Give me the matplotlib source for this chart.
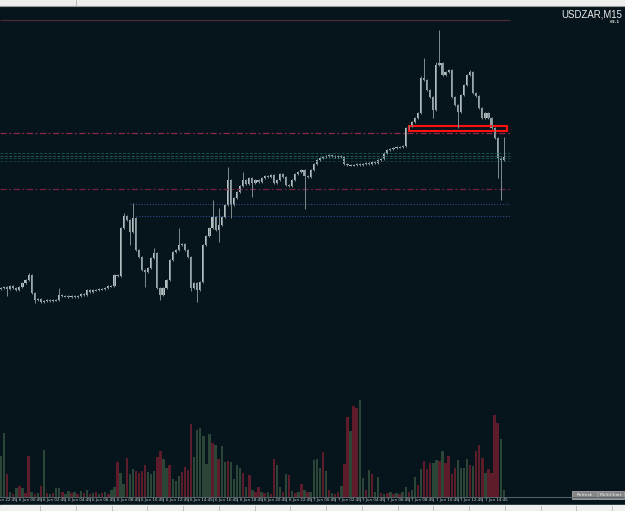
import numpy as np
import pandas as pd
import matplotlib
matplotlib.use("Agg")
import matplotlib.pyplot as plt
from matplotlib.patches import Rectangle

# USDZAR M15 candles, closes (smaller row = higher price)
close = [288, 287, 289, 286, 288, 290, 287, 283, 280, 275, 293, 300, 299, 302, 301, 300, 301, 300, 300, 295, 296, 296,
         297, 296, 297, 296, 294, 295, 290, 292, 290, 290, 289, 289, 288, 286, 286, 275, 276, 228, 216, 220, 232, 218,
         250, 257, 270, 272, 268, 258, 253, 288, 295, 288, 280, 260, 252, 250, 245, 244, 250, 257, 288, 283,
         290, 282, 245, 236, 228, 217, 230, 225, 217, 205, 180, 205, 198, 192, 186, 180, 184, 178, 183, 180, 182, 178,
         176, 177, 175, 183, 180, 174, 177, 185, 186, 180, 174, 172, 170, 176, 177, 170, 164, 160, 158, 157, 156, 155,
         156, 157,
         156, 157, 164, 165, 165, 165, 164, 165, 164, 163, 164, 162, 163, 160, 159, 153, 150, 149, 148, 147, 147, 146,
         128, 126, 122, 118, 113, 78, 80, 90, 97, 110, 65, 63, 75, 72, 70, 97, 105, 112, 95, 85, 75, 72, 93, 96, 108,
         118, 113, 118, 128, 138, 158, 160, 157]
first_open = 289

# wick lengths that stand out (bar: rows), the rest are about 1
upper_wick = {9: 2, 19: 7, 40: 3, 43: 15, 50: 5, 58: 17, 69: 17, 71: 17, 74: 13, 79: 8,
              137: 2, 138: 20, 142: 3, 143: 33, 153: 2, 164: 20}
lower_wick = {2: 7, 11: 3, 42: 13, 47: 15, 52: 5, 62: 3, 64: 12, 71: 12, 75: 13, 82: 14,
              99: 33, 141: 8, 149: 16, 162: 20, 163: 40}

# tick volume (screen heights) and colour of each volume bar
volume = [41, 64, 23, 5, 3, 9, 11, 9, 4, 41, 5, 3, 4, 11, 47, 4, 3, 4, 9, 9, 5, 3,
          6, 4, 5, 3, 6, 4, 7, 3, 4, 5, 3, 4, 5, 3, 7, 10, 35, 24, 13, 39, 23, 28, 26, 24, 26, 32, 25, 23, 26, 40,
          46, 38, 29, 32, 18, 16, 21, 25, 30, 27, 73, 40,
          67, 69, 61, 33, 63, 54, 52, 38, 51, 35, 36, 35, 18, 32, 29, 24, 10, 22, 7, 5, 10, 5, 4, 5, 3, 38, 32, 10,
          5, 23, 22, 6, 4, 5, 13, 7, 5, 5, 37, 38, 29, 45, 26, 7, 4, 3,
          5, 11, 33, 80, 66, 91, 89, 97, 19, 7, 27, 23, 5, 20, 4, 3, 4, 5, 3, 4, 3, 5, 10, 5, 7, 20, 12, 28, 36, 28,
          34, 34, 37, 36, 46, 34, 41, 23, 29, 37, 29, 29, 38, 32, 31, 46, 52, 39, 24, 28, 24, 82, 74, 58, 7]
vol_dir = ("ggrgrgrgrrgrgrgrgrggrg"
           "grgrgrgrgr" "grgrggrggr" "ggrrrrgggr" "rggrgggrrr" "rg"
           "gggggrgrgg" "rggggrgrgr" "rgrgrrggrg" "rgrgrgrggg" "grgrgr"
           "rgrrgrrggr" "grggrgrgrg" "rggrggrgrr" "rggrgrrrrg" "gggrgrrrgr" "rrrgg")

start_time = "2018-06-05 23:30"

# drawn levels on the chart
solid_levels = [20]
dashdot_levels = [133, 189]
teal_levels = [153, 156, 158, 161]
blue_levels = [204, 216]
blue_from = [42, 44]
line_end = 166
box = (133.1, 165.0, 126, 131.5)

BG = "#06151b"
W, H = 625, 511
fig = plt.figure(figsize=(W / 100, H / 100), dpi=100)
fig.patch.set_facecolor(BG)

# overlay in screen pixels for the terminal frame
ov = fig.add_axes([0, 0, 1, 1], zorder=0)
ov.set_xlim(0, W)
ov.set_ylim(H, 0)
ov.axis("off")
ov.add_patch(Rectangle((0, 0), W, 5.5, color="#eeeeee"))
ov.plot([0, W], [5.8, 5.8], color="#9a9a9a", lw=0.8)
ov.plot([76, 76], [0, 5], color="#b0b0b0", lw=0.6)
ov.plot([0, W], [497.3, 497.3], color="#56666c", lw=0.7)
ov.add_patch(Rectangle((0, 505.5), W, 6, color="#efefef"))
for tx in np.arange(40, W, 35.75):
    ov.plot([tx, tx], [506, 511], color="#b5b5b5", lw=0.6)
ov.text(622, 14.3, "USDZAR,M15", color="#ececec", fontsize=6.9, ha="right", va="center",
        family="Liberation Sans")
ov.text(620, 22.0, "63.1", color="#d0d0d0", fontsize=3, ha="right", va="center", weight="bold")
for (x0, x1, lab) in [(572, 597, "Refresh"), (598, 624, "MultiChart")]:
    ov.add_patch(Rectangle((x0, 491.5), x1 - x0, 7.5, facecolor="#858585", edgecolor="#b8b8b8", lw=0.5))
    ov.text((x0 + x1) / 2, 495.3, lab, color="#f2f2f2", fontsize=3.2, ha="center", va="center")

n = len(close)
idx = np.arange(n)
opens = np.array([first_open] + close[:-1], dtype=float)
closes = np.array(close, dtype=float)
top = np.minimum(opens, closes)
bot = np.maximum(opens, closes)
hi = top - np.array([upper_wick.get(i, 1) for i in idx])
lo = bot + np.array([lower_wick.get(i, 1) for i in idx])
body = np.maximum(bot - top, 1.2)
up = closes <= opens

# bar spacing on screen is about 3.066 px, first bar at x = 1 px
step = 3.066
xl = (-1 / step, (W - 1) / step)

pa = fig.add_axes([0, 14 / H, 1, 491 / H], zorder=2)
pa.set_facecolor("none")
pa.set_xlim(*xl)
pa.set_ylim(497, 6)
pa.axis("off")

pa.hlines(solid_levels, xl[0], line_end, color="#4a2b36", lw=0.9)
pa.hlines(dashdot_levels[:1], xl[0], line_end, color="#8c2a45", lw=0.9, linestyles=(0, (5, 2, 1.5, 2)))
pa.hlines(dashdot_levels[1:], xl[0], line_end, color="#74243b", lw=0.9, linestyles=(0, (5, 2, 1.5, 2)))
for lv, c in zip(teal_levels, ["#17504c", "#1f5a56", "#1a4a44", "#143a38"]):
    pa.hlines(lv, xl[0], line_end, color=c, lw=0.7, linestyles=(0, (3, 1.5)))
for lv, s in zip(blue_levels, blue_from):
    pa.hlines(lv, s, line_end, color="#2c4a8c", lw=0.8, linestyles=(0, (1, 1.5)))

pa.vlines(idx, hi, lo, color="#7f8c90", lw=0.7)
pa.bar(idx[up], body[up], bottom=top[up], width=0.7, color="#b3bec1", lw=0)
pa.bar(idx[~up], body[~up], bottom=top[~up], width=0.7, color="#98a5a8", lw=0)

pa.add_patch(Rectangle((box[0], box[2]), box[1] - box[0], box[3] - box[2],
                       fill=False, edgecolor="#ff1010", lw=1.5))

va = fig.add_axes([0, 14 / H, 1, 117 / H], zorder=1)
va.set_facecolor("none")
va.set_xlim(*xl)
va.set_ylim(0, 117)
va.axis("off")
vcol = ["#2b4637" if d == "g" else "#5e1c2a" for d in vol_dir]
va.bar(idx, volume, width=0.78, color=vcol, lw=0)

# time scale: a label every 2 hours at hh:45
times = pd.date_range(start_time, periods=n, freq="15min")
lab_idx = [i for i, t in enumerate(times) if t.minute == 45 and t.hour % 2 == 0]
lab_idx = [lab_idx[0] - 8] + lab_idx
ta = fig.add_axes([0, 0, 1, 14 / H], zorder=3)
ta.set_facecolor("none")
ta.set_xlim(*xl)
ta.set_ylim(14, 0)
ta.axis("off")
t0 = pd.Timestamp(start_time)
for i in lab_idx:
    t = t0 + pd.Timedelta(minutes=15 * i)
    ta.plot([i, i], [0.5, 3.5], color="#8a979b", lw=0.5)
    ta.text(i + 0.8, 3.2, f"{t.day} {t:%b} {t:%H:%M}", color="#d0d6d8", fontsize=2.9,
            ha="left", va="center")

fig.savefig("out.png", dpi=100, facecolor=BG)
